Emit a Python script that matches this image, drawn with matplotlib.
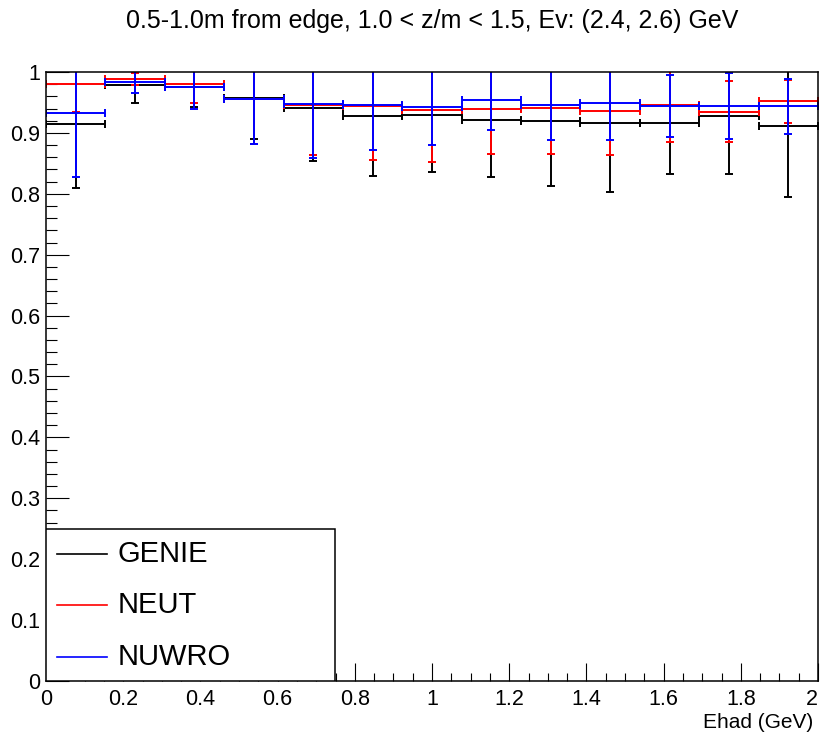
import numpy as np
import matplotlib.pyplot as plt
from matplotlib.ticker import MultipleLocator, FuncFormatter
from matplotlib.patches import Rectangle
from matplotlib.lines import Line2D

plt.rcParams['font.family'] = ['Liberation Sans', 'DejaVu Sans']

# 13 equal bins in Ehad between 0 and 2 GeV
bin_edges = np.linspace(0.0, 2.0, 14)

genie = [0.915, 0.979, 0.975, 0.957, 0.941, 0.927, 0.930, 0.922, 0.920, 0.917, 0.917, 0.927, 0.911]
genie_err = [0.106, 0.030, 0.032, 0.067, 0.087, 0.098, 0.095, 0.095, 0.107, 0.114, 0.085, 0.095, 0.116]

neut = [0.981, 0.988, 0.981, 0.955, 0.945, 0.944, 0.938, 0.939, 0.941, 0.936, 0.945, 0.935, 0.952]
neut_err = [0.046, 0.010, 0.032, 0.074, 0.081, 0.088, 0.085, 0.073, 0.075, 0.072, 0.060, 0.050, 0.035]

nuwro = [0.933, 0.983, 0.975, 0.955, 0.947, 0.946, 0.943, 0.954, 0.946, 0.949, 0.944, 0.944, 0.944]
nuwro_err = [0.106, 0.018, 0.036, 0.074, 0.088, 0.074, 0.063, 0.050, 0.058, 0.061, 0.051, 0.054, 0.045]

labels = ['GENIE', 'NEUT', 'NUWRO']
colors = ['black', 'red', 'blue']

centers = 0.5 * (bin_edges[:-1] + bin_edges[1:])
half_w = 0.5 * np.diff(bin_edges)

fig = plt.figure(figsize=(8.22, 7.36), dpi=100)
ax = fig.add_axes([46/822, 55/736, 772/822, 609/736])

for vals, errs, col in zip([genie, neut, nuwro], [genie_err, neut_err, nuwro_err], colors):
    ax.errorbar(centers, vals, xerr=half_w, yerr=errs, fmt='none',
                ecolor=col, elinewidth=1.4, capsize=2.6, capthick=1.4)

ax.set_xlim(0, 2)
ax.set_ylim(0, 1)

ax.xaxis.set_major_locator(MultipleLocator(0.2))
ax.xaxis.set_minor_locator(MultipleLocator(0.05))
ax.yaxis.set_major_locator(MultipleLocator(0.1))
ax.yaxis.set_minor_locator(MultipleLocator(0.02))
fmt = FuncFormatter(lambda v, p: '%g' % round(v, 2))
ax.xaxis.set_major_formatter(fmt)
ax.yaxis.set_major_formatter(fmt)

ax.tick_params(axis='both', which='both', direction='in', top=False, right=False,
               width=0.8, labelsize=15.5)
ax.tick_params(axis='y', which='major', length=16.5, pad=4)
ax.tick_params(axis='y', which='minor', length=7.7)
ax.tick_params(axis='x', which='major', length=13, pad=6)
ax.tick_params(axis='x', which='minor', length=6)
for s in ax.spines.values():
    s.set_linewidth(1.1)

ax.set_xlabel('Ehad (GeV)', fontsize=15, loc='right', labelpad=2)
ax.xaxis.label.set_x(0.994)

fig.text(0.5255, 1 - 21/736, '0.5-1.0m from edge, 1.0 < z/m < 1.5, Ev: (2.4, 2.6) GeV',
         ha='center', va='center', fontsize=18)

# legend box in the lower left corner
box_w, box_h = 0.3744, 0.2496
ax.add_patch(Rectangle((0, 0), box_w, box_h, transform=ax.transAxes,
                       facecolor='white', edgecolor='black', linewidth=1.1, zorder=5))
row_y = [0.2085, 0.1248, 0.0394]
for lab, col, yy in zip(labels, colors, row_y):
    ax.add_line(Line2D([0.0142, 0.079], [yy, yy], transform=ax.transAxes,
                       color=col, linewidth=1.2, zorder=6))
    ax.text(0.093, yy, lab, transform=ax.transAxes, ha='left', va='center',
            fontsize=21, zorder=6)

# keep the "2" at the right end inside the figure
fig.canvas.draw()
for tick in ax.xaxis.get_major_ticks():
    if abs(tick.get_loc() - 2.0) < 1e-6:
        tick.label1.set_horizontalalignment('right')
        tick.label1.set_x(2.003)

fig.savefig('out.png', dpi=100)
